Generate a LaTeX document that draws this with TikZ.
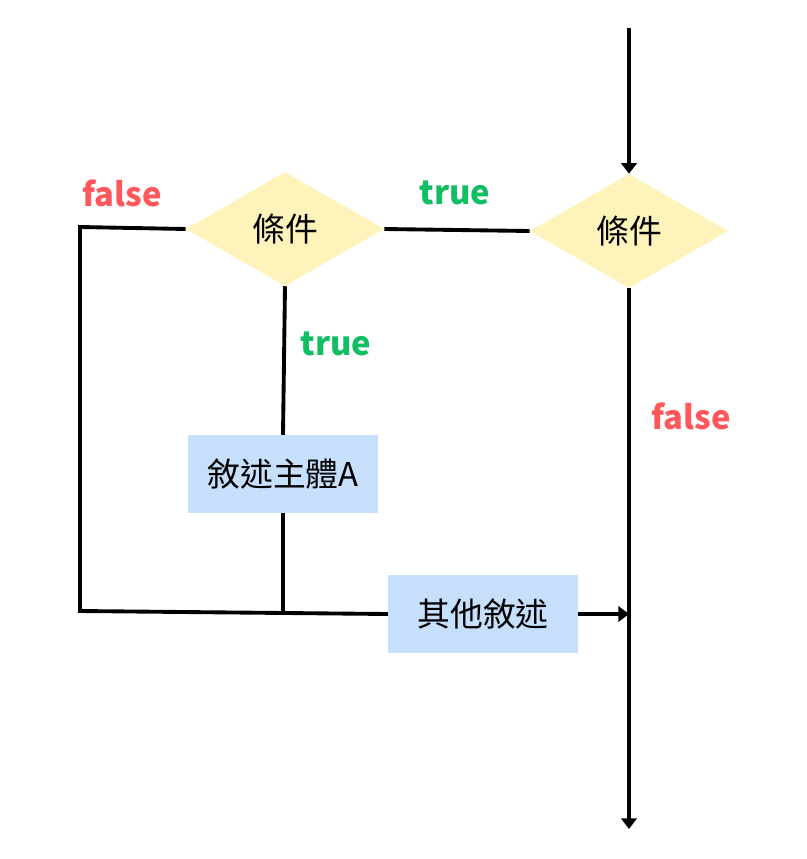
\documentclass[tikz,border=0pt]{standalone}
\usepackage{fontspec}
\setmainfont{Noto Sans CJK TC}
\usetikzlibrary{shapes.geometric,arrows.meta}
\definecolor{condyellow}{RGB}{255,243,188}
\definecolor{stmtblue}{RGB}{198,223,251}
\definecolor{falsered}{RGB}{255,88,92}
\definecolor{truegreen}{RGB}{18,190,100}
\begin{document}
\begin{tikzpicture}[
	x=0.03cm, y=-0.03cm,
	cond/.style={ diamond, fill=condyellow, inner sep=0pt, minimum width=5.95cm, minimum height=3.42cm, font=\fontsize{28}{32}\selectfont },
	stmt/.style={ rectangle, fill=stmtblue, inner sep=0pt, minimum width=5.7cm, minimum height=2.34cm, font=\fontsize{28}{32}\selectfont },
	flag/.style={ font=\bfseries\fontsize{28}{32}\selectfont },
	flow/.style={ line width=3.3pt },
	flowarrow/.style={ line width=3.3pt, -{Triangle[length=9pt,width=13pt]} }
]
\useasboundingbox (0,0) rectangle (807,859);

\node at (629,231) (condR) [cond] {條件};
\node at (285,229) (condL) [cond] {條件};
\node at (283,474) (body) [stmt] {敘述主體A};
\node at (483,614) (other) [stmt] {其他敘述};

\coordinate (start) at (629,28);
\coordinate (end) at (629,829);
\coordinate (loopT) at (80,227);
\coordinate (loopB) at (80,611);
\coordinate (join) at (283,611);
\coordinate (merge) at (629,614);

%% outer condition
\draw[flowarrow] (start) to (condR.north);
\draw[flowarrow] (condR.south) to (end);
\draw[flow] (condR.west) to (condL.east);
\node at (455,193) (t1) [flag,text=truegreen] {true};
\node at (691,416) (f1) [flag,text=falsered] {false};

%% inner condition
\draw[flow] (condL.south) to (body.north);
\node at (336,344) (t2) [flag,text=truegreen] {true};
\draw[flow] (condL.west) -- (loopT) -- (loopB) -- (other.west);
\node at (122,193) (f2) [flag,text=falsered] {false};
\draw[flow] (body.south) to (join);

\draw[flowarrow] (other.east) to (merge);

\end{tikzpicture}
\end{document}
